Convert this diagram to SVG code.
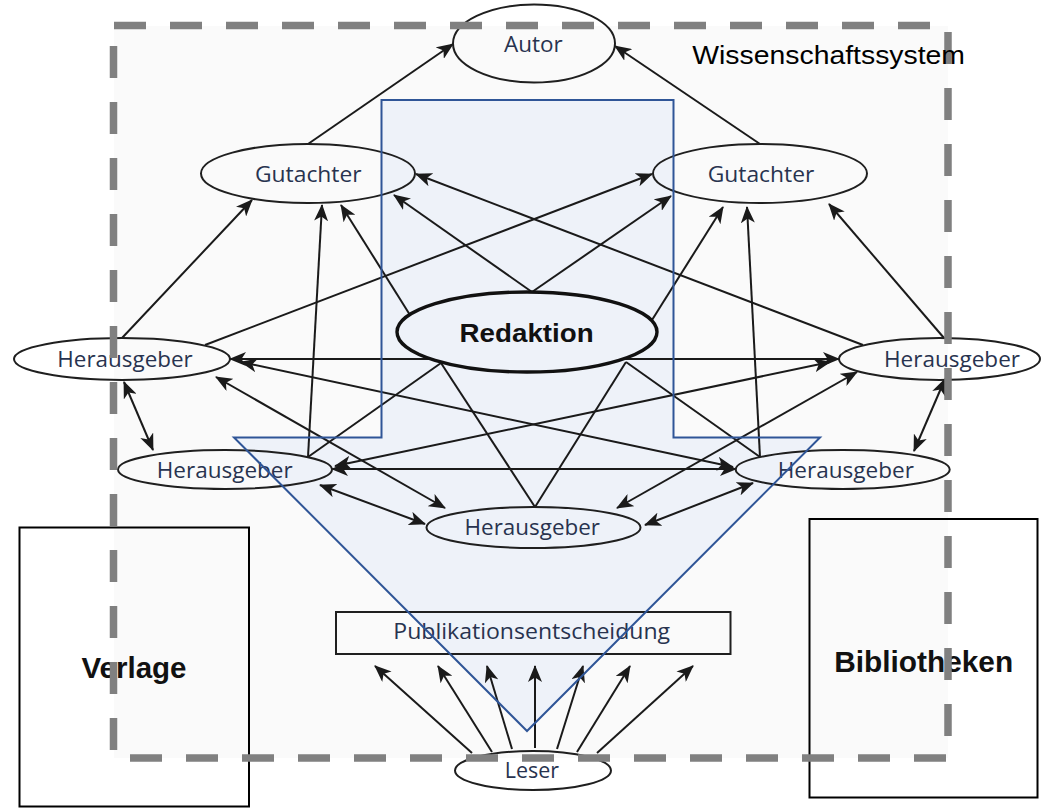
<svg xmlns="http://www.w3.org/2000/svg" width="1041" height="808" viewBox="0 0 1041 808">
<defs>
<style>
.ln{stroke:#1a1a1a;stroke-width:2;fill:none}
.a{marker-end:url(#ah)}
.d{marker-start:url(#ah);marker-end:url(#ah)}
.el{fill:none;stroke:#1f1f1f;stroke-width:2}
.lb{font-family:"Open Sans","Noto Sans",sans-serif;font-size:21px;fill:#28334f;text-anchor:middle}
.big{font-family:"Liberation Sans",Arial,sans-serif;font-weight:bold;fill:#111;text-anchor:middle}
.box{fill:none;stroke:#000;stroke-width:2}
.dash{stroke:#808080;stroke-width:7.5;stroke-dasharray:32 24;fill:none}
</style>
<marker id="ah" viewBox="0 0 17 14" refX="16" refY="7" markerWidth="17" markerHeight="14" markerUnits="userSpaceOnUse" orient="auto-start-reverse">
<path d="M0,0 L17,7 L0,14 L4.5,7 z" fill="#1a1a1a"/>
</marker>
</defs>
<rect width="1041" height="808" fill="#ffffff"/>
<rect id="bg" x="114" y="26" width="834" height="732" fill="#FAFAFA"/>
<polygon id="flow-arrow-fill" points="381.5,100 673.5,100 673.5,437.5 820,437.5 527,731 234,437.5 381.5,437.5" fill="#EEF2F9"/>
<g id="connectors">
<line class="ln a" x1="308" y1="144" x2="453" y2="44"/>
<line class="ln a" x1="760" y1="144" x2="615" y2="46"/>
<line class="ln a" x1="122" y1="338" x2="252" y2="200"/>
<line class="ln a" x1="308" y1="457" x2="322" y2="205"/>
<line class="ln a" x1="410" y1="315" x2="341" y2="205"/>
<line class="ln a" x1="532" y1="292" x2="394" y2="195"/>
<line class="ln a" x1="863" y1="345" x2="416" y2="174"/>
<line class="ln a" x1="205" y1="345" x2="652" y2="174"/>
<line class="ln a" x1="532" y1="292" x2="671" y2="196"/>
<line class="ln a" x1="652" y1="320" x2="723" y2="207"/>
<line class="ln a" x1="760" y1="457" x2="747" y2="207"/>
<line class="ln a" x1="944" y1="338" x2="829" y2="204"/>
<line class="ln d" x1="230" y1="359" x2="839" y2="359"/>
<line class="ln d" x1="241" y1="362" x2="733" y2="467"/>
<line class="ln d" x1="216" y1="377" x2="445" y2="508"/>
<line class="ln d" x1="830" y1="362" x2="335" y2="466"/>
<line class="ln d" x1="857" y1="372" x2="617" y2="508"/>
<line class="ln d" x1="332" y1="469" x2="736" y2="469"/>
<line class="ln d" x1="320" y1="485" x2="425" y2="524"/>
<line class="ln d" x1="753" y1="483" x2="645" y2="525"/>
<line class="ln d" x1="124" y1="382" x2="153" y2="450"/>
<line class="ln d" x1="945" y1="379" x2="914" y2="451"/>
<line class="ln" x1="441" y1="363" x2="535" y2="507"/>
<line class="ln" x1="626" y1="362" x2="535" y2="507"/>
<line class="ln" x1="441" y1="363" x2="308" y2="457"/>
<line class="ln" x1="626" y1="362" x2="760" y2="457"/>
<line class="ln a" x1="472" y1="753" x2="375" y2="666"/>
<line class="ln a" x1="492" y1="752" x2="438" y2="666"/>
<line class="ln a" x1="512" y1="749" x2="487" y2="666"/>
<line class="ln a" x1="535" y1="748" x2="535" y2="666"/>
<line class="ln a" x1="557" y1="749" x2="583" y2="666"/>
<line class="ln a" x1="577" y1="752" x2="630" y2="666"/>
<line class="ln a" x1="597" y1="753" x2="693" y2="666"/>
</g>
<g id="autor"><ellipse class="el" cx="534" cy="43.5" rx="81" ry="39"/><text class="lb" x="533.3" y="51.7" textLength="58.7" lengthAdjust="spacingAndGlyphs">Autor</text></g>
<g id="gutachter-links"><ellipse class="el" cx="308" cy="173.5" rx="107" ry="29.5"/><text class="lb" x="308.3" y="181.7" textLength="106.7" lengthAdjust="spacingAndGlyphs">Gutachter</text></g>
<g id="gutachter-rechts"><ellipse class="el" cx="760" cy="173.5" rx="107" ry="29.5"/><text class="lb" x="761" y="181.7" textLength="106.6" lengthAdjust="spacingAndGlyphs">Gutachter</text></g>
<g id="herausgeber-ol"><ellipse class="el" cx="122" cy="359" rx="108" ry="21"/><text class="lb" x="125" y="366.7" textLength="135.4" lengthAdjust="spacingAndGlyphs">Herausgeber</text></g>
<g id="herausgeber-or"><ellipse class="el" cx="939.5" cy="359" rx="100.5" ry="21"/><text class="lb" x="952" y="366.7" textLength="136" lengthAdjust="spacingAndGlyphs">Herausgeber</text></g>
<g id="herausgeber-ul"><ellipse class="el" cx="225" cy="469.5" rx="107" ry="19.5"/><text class="lb" x="224.7" y="478.3" textLength="136" lengthAdjust="spacingAndGlyphs">Herausgeber</text></g>
<g id="herausgeber-ur"><ellipse class="el" cx="842.7" cy="469.5" rx="107" ry="19.5"/><text class="lb" x="845.8" y="478.3" textLength="136.3" lengthAdjust="spacingAndGlyphs">Herausgeber</text></g>
<g id="herausgeber-unten"><ellipse class="el" cx="533.5" cy="527.5" rx="107" ry="20.5"/><text class="lb" x="532.3" y="535" textLength="135.5" lengthAdjust="spacingAndGlyphs">Herausgeber</text></g>
<g id="publikationsentscheidung"><rect x="336" y="612" width="394.5" height="42" fill="none" stroke="#1f1f1f" stroke-width="2"/><text class="lb" x="531.7" y="639" textLength="276.7" lengthAdjust="spacingAndGlyphs">Publikationsentscheidung</text></g>
<g id="leser"><ellipse class="el" cx="533" cy="770.5" rx="78" ry="19.5"/><text class="lb" x="532" y="778.3" textLength="54.3" lengthAdjust="spacingAndGlyphs">Leser</text></g>
<polygon id="flow-arrow-outline" points="381.5,100 673.5,100 673.5,437.5 820,437.5 527,731 234,437.5 381.5,437.5" fill="none" stroke="#2F5597" stroke-width="2"/>
<g id="redaktion"><ellipse cx="527" cy="332" rx="130" ry="40" fill="#EEF2F9" stroke="#111" stroke-width="3.4"/><text class="big" x="526.6" y="341.7" font-size="26" textLength="134" lengthAdjust="spacingAndGlyphs">Redaktion</text></g>
<g id="verlage"><rect class="box" x="19.5" y="527.5" width="229.5" height="279"/><text class="big" x="134" y="678" font-size="29" textLength="105" lengthAdjust="spacingAndGlyphs">Verlage</text></g>
<g id="bibliotheken"><rect class="box" x="809.5" y="519" width="228" height="278.5"/><text class="big" x="923.7" y="671.7" font-size="29.5" textLength="179" lengthAdjust="spacingAndGlyphs">Bibliotheken</text></g>
<g id="wissenschaftssystem">
<line class="dash" x1="114" y1="25.5" x2="950" y2="25.5"/>
<line class="dash" x1="948" y1="32" x2="948" y2="760"/>
<line class="dash" x1="130" y1="758" x2="950" y2="758"/>
<line class="dash" x1="113.5" y1="46" x2="113.5" y2="760"/>
<text x="692.3" y="64.3" font-family="Liberation Sans, Arial, sans-serif" font-size="26" fill="#000" textLength="272.7" lengthAdjust="spacingAndGlyphs">Wissenschaftssystem</text>
</g>
</svg>
